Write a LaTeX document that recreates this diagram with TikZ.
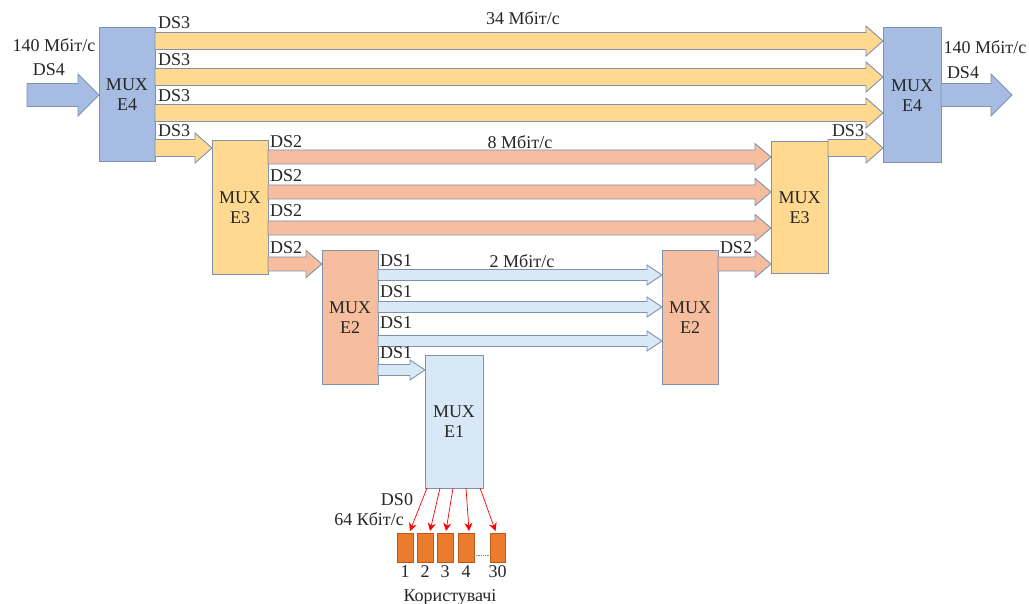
\documentclass[tikz,border=0pt]{standalone}
\usepackage{fontspec}
\setmainfont{Liberation Serif}
\usetikzlibrary{calc,arrows.meta}
\definecolor{blueA}{HTML}{A6BCE2}
\definecolor{yel}{HTML}{FFD98F}
\definecolor{ora}{HTML}{F6BE9E}
\definecolor{lblue}{HTML}{D9E8F7}
\definecolor{edge}{HTML}{8091AC}
\definecolor{user}{HTML}{EB7C2D}
\definecolor{userline}{HTML}{B8581A}
\definecolor{txt}{HTML}{262626}
\newcommand\barrow[6]{\draw[#3] let \p1=(#1), \p2=(#2) in
  (\x1,\y1+#4) -- (\x2-#6,\y1+#4) -- (\x2-#6,\y1+#5) -- (\x2,\y1) --
  (\x2-#6,\y1-#5) -- (\x2-#6,\y1-#4) -- (\x1,\y1-#4) -- cycle;}
\newcommand\afour[2]{\barrow{#1}{#2}{afour}{11.5pt}{21pt}{21pt}}
\newcommand\athree[2]{\barrow{#1}{#2}{athree}{8.5pt}{15pt}{17pt}}
\newcommand\atwo[2]{\barrow{#1}{#2}{atwo}{7pt}{13.5pt}{16pt}}
\newcommand\aone[2]{\barrow{#1}{#2}{aone}{5.5pt}{10pt}{15pt}}
\begin{document}
\begin{tikzpicture}[x=1pt,y=-1pt,
  font=\fontsize{18}{20}\selectfont, text=txt,
  mux/.style={draw=edge, line width=1pt, inner sep=0pt, outer sep=0pt,
    anchor=north west, align=center},
  afour/.style={fill=blueA, draw=edge, line width=0.9pt},
  athree/.style={fill=yel, draw=edge, line width=0.9pt},
  atwo/.style={fill=ora, draw=edge, line width=0.9pt},
  aone/.style={fill=lblue, draw=edge, line width=0.9pt},
  lbl/.style={inner sep=0pt},
  usr/.style={fill=user, draw=userline, line width=0.6pt, minimum width=16,
    minimum height=29, inner sep=0pt, outer sep=0pt, anchor=north west},
  red/.style={draw=red, line width=0.7pt, -{Stealth[length=8pt,width=8pt]}}]
\fill[white] (0,0) rectangle (1029,604);
\useasboundingbox (0,0) rectangle (1029,604);

% multiplexers
\node[mux, fill=blueA, minimum width=56, minimum height=134] (e4l) at (99,28) {MUX\\E4};
\node[mux, fill=blueA, minimum width=58, minimum height=135] (e4r) at (883,28) {MUX\\E4};
\node[mux, fill=yel, minimum width=56, minimum height=134] (e3l) at (212,141) {MUX\\E3};
\node[mux, fill=yel, minimum width=57, minimum height=132] (e3r) at (771,142) {MUX\\E3};
\node[mux, fill=ora, minimum width=56, minimum height=133] (e2l) at (322,251) {MUX\\E2};
\node[mux, fill=ora, minimum width=56, minimum height=133] (e2r) at (662,251) {MUX\\E2};
\node[mux, fill=lblue, minimum width=58, minimum height=133] (e1) at (425,355) {MUX\\E1};

% DS4 in / out
\coordinate (in4) at (27,95);
\coordinate (out4) at (1012,95);
\afour{in4}{e4l.west|-in4}
\afour{e4r.east|-out4}{out4}

% DS3
\athree{e4l.east|-0,41}{e4r.west|-0,41}
\athree{e4l.east|-0,77}{e4r.west|-0,77}
\athree{e4l.east|-0,113}{e4r.west|-0,113}
\athree{e4l.east|-0,148}{e3l.west|-0,148}
\athree{e3r.east|-0,148}{e4r.west|-0,148}

% DS2
\atwo{e3l.east|-0,157}{e3r.west|-0,157}
\atwo{e3l.east|-0,192}{e3r.west|-0,192}
\atwo{e3l.east|-0,228}{e3r.west|-0,228}
\atwo{e3l.east|-0,264}{e2l.west|-0,264}
\atwo{e2r.east|-0,264}{e3r.west|-0,264}

% DS1
\aone{e2l.east|-0,275}{e2r.west|-0,275}
\aone{e2l.east|-0,307}{e2r.west|-0,307}
\aone{e2l.east|-0,341}{e2r.west|-0,341}
\aone{e2l.east|-0,370}{e1.west|-0,370}

% labels
\node[lbl] (l140a) at (54,45) {140 Мбіт/с};
\node[lbl] (lds4a) at (49,70) {DS4};
\node[lbl] (l140b) at (985,47) {140 Мбіт/с};
\node[lbl] (lds4b) at (963,73) {DS4};
\node[lbl, anchor=west] (d3a) at (158,23) {DS3};
\node[lbl, anchor=west] (d3b) at (158,60) {DS3};
\node[lbl, anchor=west] (d3c) at (158,96) {DS3};
\node[lbl, anchor=west] (d3d) at (158,131) {DS3};
\node[lbl] (d3e) at (848,131) {DS3};
\node[lbl] (r34) at (523,18) {34 Мбіт/с};
\node[lbl, anchor=west] (d2a) at (270,142) {DS2};
\node[lbl, anchor=west] (d2b) at (270,176) {DS2};
\node[lbl, anchor=west] (d2c) at (270,211) {DS2};
\node[lbl, anchor=west] (d2d) at (270,248) {DS2};
\node[lbl] (d2e) at (736,248) {DS2};
\node[lbl] (r8) at (520,142) {8 Мбіт/с};
\node[lbl, anchor=west] (d1a) at (380,261) {DS1};
\node[lbl, anchor=west] (d1b) at (380,292) {DS1};
\node[lbl, anchor=west] (d1c) at (380,323) {DS1};
\node[lbl, anchor=west] (d1d) at (380,353) {DS1};
\node[lbl] (r2) at (522,261) {2 Мбіт/с};
\node[lbl] (d0) at (397,500) {DS0};
\node[lbl, anchor=east] (r64) at (404,519) {64 Кбіт/с};

% users
\node[usr] (u1) at (397,533) {};
\node[usr] (u2) at (417,533) {};
\node[usr] (u3) at (437,533) {};
\node[usr] (u4) at (458,533) {};
\node[usr, minimum width=15] (u30) at (490,533) {};
\draw[gray, densely dotted, line width=0.8pt] (u4.east|-0,555) -- (u30.west|-0,555);
\draw[red] ($(e1.south west)+(2,0)$) -- ($(u1.north)+(5,-2)$);
\draw[red] ($(e1.south west)+(15,0)$) -- ($(u2.north)+(5,-2)$);
\draw[red] ($(e1.south west)+(28,0)$) -- ($(u3.north)+(1,-2)$);
\draw[red] ($(e1.south west)+(41,0)$) -- ($(u4.north)+(3,-2)$);
\draw[red] ($(e1.south west)+(55,0)$) -- ($(u30.north)+(-2,-2)$);
\node[lbl] (n1) at (u1.south|-0,572) {1};
\node[lbl] (n2) at (u2.south|-0,572) {2};
\node[lbl] (n3) at (u3.south|-0,572) {3};
\node[lbl] (n4) at (u4.south|-0,572) {4};
\node[lbl] (n30) at (u30.south|-0,572) {30};
\node[lbl] (users) at (450,597) {Користувачі};
\end{tikzpicture}
\end{document}
